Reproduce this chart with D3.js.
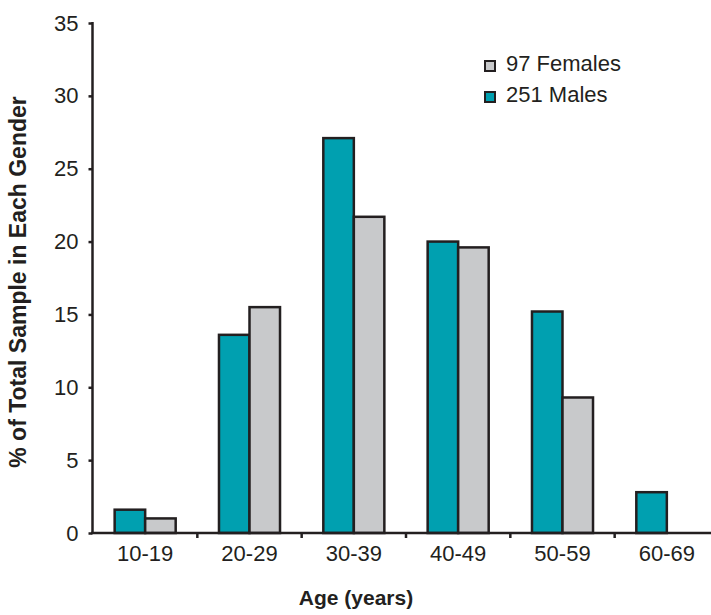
<!DOCTYPE html>
<html><head><meta charset="utf-8">
<script src="https://cdn.jsdelivr.net/npm/d3@7"></script>
<style>body{margin:0;background:#fff}text{font-family:Arial,"Liberation Sans",sans-serif;fill:#231f20}</style>
</head><body><svg id="c" width="711" height="615"></svg>
<script>
const categories = ["10-19","20-29","30-39","40-49","50-59","60-69"];
const males = [1.6, 13.6, 27.1, 20.0, 15.2, 2.8];
const females = [1.0, 15.5, 21.7, 19.6, 9.3, null];
const seriesNames = ["251 Males","97 Females"];
const yTicks = [0,5,10,15,20,25,30,35];
const colors = {"251 Males":"#00a0b0","97 Females":"#c8c9cb"};
const ink = "#231f20";

const svg = d3.select("#c");
const x = d3.scaleBand().domain(categories).range([93,719]).paddingInner(0.415).paddingOuter(0.2075);
const xs = d3.scaleBand().domain(seriesNames).range([0,x.bandwidth()]);
const y = d3.scaleLinear().domain([0,35]).range([533,23]);

const rows = categories.map((c,i)=>({cat:c, vals:[{s:"251 Males",v:males[i]},{s:"97 Females",v:females[i]}].filter(d=>d.v!=null)}));
svg.append("g").selectAll("g").data(rows).join("g")
  .attr("transform",d=>`translate(${x(d.cat)},0)`)
  .selectAll("rect").data(d=>d.vals).join("rect")
  .attr("x",d=>xs(d.s)).attr("width",xs.bandwidth())
  .attr("y",d=>y(d.v)).attr("height",d=>y(0)-y(d.v))
  .attr("fill",d=>colors[d.s]).attr("stroke",ink).attr("stroke-width",2.5);

// y axis
const ya = svg.append("g").attr("transform","translate(92.5,0)")
  .call(d3.axisLeft(y).tickValues(yTicks).tickSize(4).tickPadding(10));
ya.select(".domain").attr("d",`M0,${y(35)-1}V${y(0)}`).attr("stroke",ink).attr("stroke-width",2.5);
ya.selectAll(".tick line").attr("stroke",ink).attr("stroke-width",2.5);
ya.selectAll(".tick text").style("font-size","22px").attr("fill",ink);

// x axis
svg.append("line").attr("x1",91).attr("x2",711).attr("y1",y(0)).attr("y2",y(0)).attr("stroke",ink).attr("stroke-width",2.5);
const step = x.step();
const bounds = categories.slice(0,-1).map(c=>x(c)+x.bandwidth()+step*x.paddingInner()/2);
svg.append("g").selectAll("line").data(bounds).join("line")
  .attr("x1",d=>d).attr("x2",d=>d).attr("y1",y(0)).attr("y2",y(0)+5).attr("stroke",ink).attr("stroke-width",2.5);
svg.append("g").selectAll("text").data(categories).join("text")
  .attr("x",d=>x(d)+x.bandwidth()/2).attr("y",y(0)+28).attr("text-anchor","middle")
  .style("font-size","22px").text(d=>d);

// titles
svg.append("text").attr("x",356).attr("y",605).attr("text-anchor","middle")
  .style("font-size","21px").style("font-weight","bold").text("Age (years)");
svg.append("text").attr("transform","translate(26,282) rotate(-90)").attr("text-anchor","middle")
  .style("font-size","23px").style("font-weight","bold").text("% of Total Sample in Each Gender");

// legend
const legendItems = ["97 Females","251 Males"];
const lg = svg.append("g").selectAll("g").data(legendItems).join("g")
  .attr("transform",(d,i)=>`translate(485,${61+i*31})`);
lg.append("rect").attr("width",10).attr("height",10).attr("fill",d=>colors[d]).attr("stroke",ink).attr("stroke-width",2);
lg.append("text").attr("x",21).attr("y",10).style("font-size","22px").text(d=>d);
</script></body></html>
